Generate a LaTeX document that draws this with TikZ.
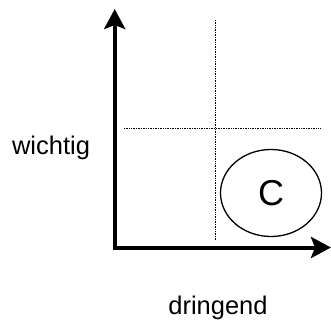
\documentclass[tikz,border=0pt]{standalone}
\usepackage{fontspec}
\setmainfont{Liberation Sans}
\usetikzlibrary{arrows.meta,shapes.geometric}

\begin{document}
\begin{tikzpicture}[x=1pt,y=-1pt,every node/.style={font=\fontsize{25.5}{28}\selectfont},
    achse/.style={line width=4pt,-{Stealth[length=20pt,width=21pt,inset=4pt]}},
    raster/.style={densely dotted,line width=0.7pt}]
    \useasboundingbox (0,0) rectangle (331,322);
    \coordinate (o) at (114.7,247.5);
    \coordinate (yende) at (114.7,9);
    \coordinate (xende) at (331,247.5);
    \draw[achse] (o) -- (yende);
    \draw[achse] ([xshift=-2pt]o) -- (xende);
    \draw[raster] (215,20) -- (215,240);
    \draw[raster] (124,128) -- (320,128);
    \node[draw,ellipse,inner sep=0pt,line width=1.3pt,minimum width=101pt,minimum height=87pt,font=\fontsize{36}{38}\selectfont] (c) at (271,193) {C};
    \node (wichtig) at (51,148) {wichtig};
    \node (dringend) at (218,308) {dringend};
\end{tikzpicture}
\end{document}
